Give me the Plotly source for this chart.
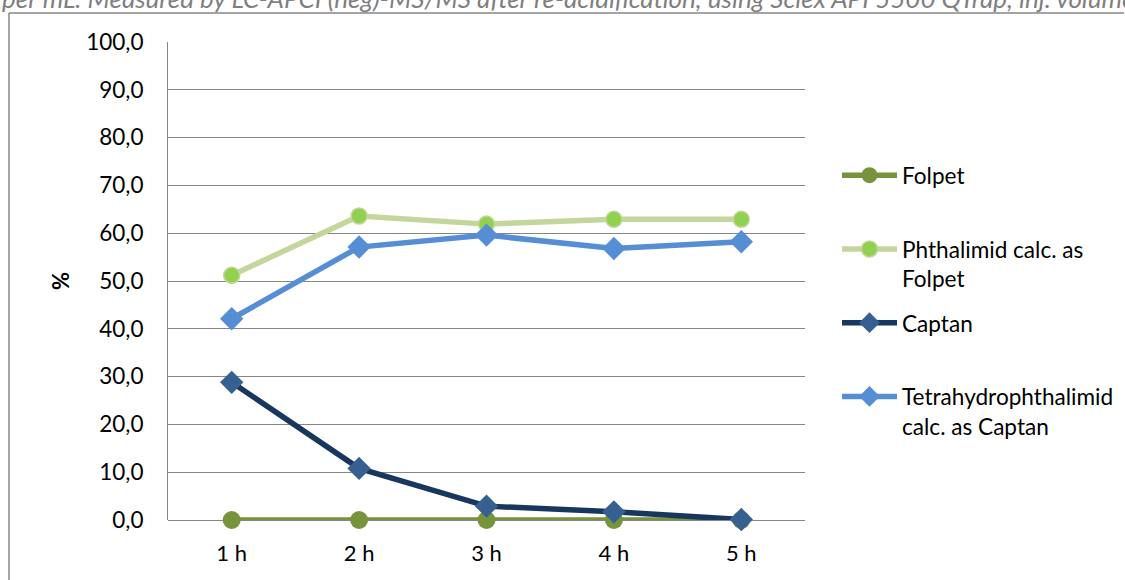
import plotly.graph_objects as go

categories = ["1 h", "2 h", "3 h", "4 h", "5 h"]
folpet = [0.0, 0.0, 0.0, 0.0, 0.0]
phthalimid = [51.2, 63.6, 61.9, 62.9, 62.9]
captan = [28.8, 10.8, 2.9, 1.7, 0.1]
tetrahydro = [42.1, 57.1, 59.6, 56.8, 58.2]

names = ["Folpet", "Phthalimid calc. as<br>Folpet", "Captan", "Tetrahydrophthalimid<br>calc. as Captan"]
FONT = "Lato"

fig = go.Figure()
fig.add_trace(go.Scatter(x=categories, y=folpet, name=names[0] + "<br> ", mode="lines+markers",
                         line=dict(color="#77933C", width=5.5),
                         marker=dict(symbol="circle", size=18, color="#77933C"),
                         cliponaxis=False, legendgroup="a"))
fig.add_trace(go.Scatter(x=categories, y=phthalimid, name=names[1], mode="lines+markers",
                         line=dict(color="#C3D69B", width=5.5),
                         marker=dict(symbol="circle", size=16, color="#92D050",
                                     line=dict(color="#C3D69B", width=1.5)),
                         cliponaxis=False, legendgroup="b"))
fig.add_trace(go.Scatter(x=categories, y=captan, name=names[2] + "<br> ", mode="lines+markers",
                         line=dict(color="#17375E", width=5.5),
                         marker=dict(symbol="diamond", size=18, color="#376092"),
                         cliponaxis=False, legendgroup="c"))
fig.add_trace(go.Scatter(x=categories, y=tetrahydro, name=names[3], mode="lines+markers",
                         line=dict(color="#558ED5", width=5.5),
                         marker=dict(symbol="diamond", size=18, color="#558ED5"),
                         cliponaxis=False, legendgroup="d"))

# plot area: x 168..805, y 42..520
FW, FH = 1125, 580
px0, px1, py0, py1 = 168, 805, 42, 520
W, H = px1 - px0, py1 - py0

def fx(p):
    return (p - px0) / W

def fy(p):
    return (py1 - p) / H

fig.add_shape(type="line", xref="paper", yref="paper", x0=fx(9), x1=fx(9), y0=fy(13), y1=fy(600),
              line=dict(color="#868686", width=1.5))
fig.add_shape(type="line", xref="paper", yref="paper", x0=fx(9), x1=fx(1124), y0=fy(13), y1=fy(13),
              line=dict(color="#868686", width=1.5))

fig.add_annotation(text="per mL. Measured by LC-APCI (neg)-MS/MS after re-acidification, using Sciex API 5500 QTrap, inj. volume",
                   xref="paper", yref="paper", x=fx(0), y=fy(-2), xanchor="left", yanchor="middle",
                   width=1123, align="left",
                   showarrow=False, font=dict(family=FONT, size=26, color="#7F7F7F", style="italic"))

fig.update_layout(
    width=FW, height=FH,
    margin=dict(l=px0, r=FW - px1, t=py0, b=FH - py1, autoexpand=False),
    paper_bgcolor="white", plot_bgcolor="white",
    separators=", ",
    font=dict(family=FONT, size=22, color="black"),
    showlegend=True,
    legend=dict(xref="container", yref="container", x=837 / FW, y=1 - 154 / FH,
                xanchor="left", yanchor="top", maxheight=560,
                valign="top", tracegroupgap=12, itemwidth=55,
                font=dict(family=FONT, size=22.6, color="black")),
    xaxis=dict(showgrid=False, showline=False, ticks="outside", ticklen=14,
               tickcolor="rgba(0,0,0,0)", tickfont=dict(size=22),
               range=[-0.5, 4.5]),
    yaxis=dict(range=[0, 100], dtick=10, tickformat=".1f", showgrid=True, gridcolor="#868686",
               gridwidth=1, showline=True, linecolor="#868686", linewidth=1, zeroline=True,
               zerolinecolor="#868686", zerolinewidth=1, ticks="outside", ticklen=19,
               tickcolor="rgba(0,0,0,0)", tickfont=dict(size=22.5),
               title=dict(text="<b>%</b>", font=dict(size=22), standoff=10)),
)

fig.write_html("out.html")
